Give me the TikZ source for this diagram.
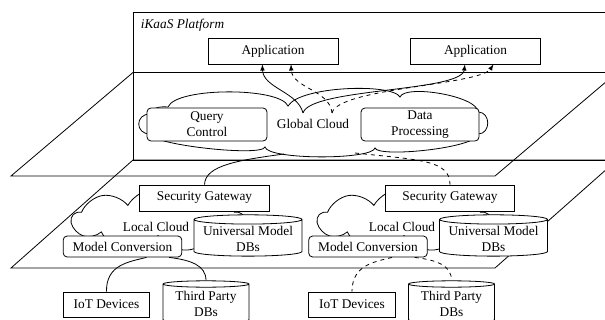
\documentclass[tikz,border=0pt]{standalone}
\usepackage{fontspec}
\setmainfont{Liberation Serif}
\usetikzlibrary{shapes.geometric,shapes.symbols}

\tikzset{
  box/.style={draw, fill=white, inner sep=2pt},
  rbox/.style={box, rounded corners=3pt, align=center},
  db/.style={cylinder, shape border rotate=90, shape aspect=0.1, draw, fill=white, align=center, inner sep=1pt},
  puff/.style={cloud, draw, fill=white, cloud ignores aspect},
}

\begin{document}
\begin{tikzpicture}[x=0.75pt, y=-0.75pt, >=latex, line width=0.6pt]
    \useasboundingbox (0,0) rectangle (605,320);
    \clip (0,0) rectangle (605,320);

    % platform frame and the two layers
    \draw (133,12.5) rectangle (650,160);
    \node[anchor=west, font=\itshape] (title) at (136,25) {iKaaS Platform};
    \draw (133,72.5) -- (617,72.5) -- (495,176) -- (11,176) -- cycle;
    \draw (133,160) -- (617,160) -- (495,268) -- (11,268) -- cycle;

    % global cloud
    \node[box, minimum width=97.5pt, minimum height=19.5pt] (app1) at (273,51) {Application};
    \node[box, minimum width=97.5pt, minimum height=19.5pt] (app2) at (475.5,51) {Application};
    \draw[fill=white] (150,114) .. controls (135,114) and (135,134) .. (150,134)
        .. controls (152,145) and (262,157) .. (265,147)
        .. controls (268,160) and (372,160) .. (375,148)
        .. controls (378,158) and (478,148) .. (478,134)
        .. controls (491,134) and (491,112) .. (478,112)
        .. controls (478,96) and (405,84) .. (400,97)
        .. controls (392,83) and (300,86) .. (288,106)
        .. controls (280,87) and (176,87) .. (168,107)
        .. controls (158,106) and (150,109) .. cycle;
    \node (gc) at (313,124) {Global Cloud};
    \node[rbox, minimum width=90pt, minimum height=24.75pt] (qc) at (207,124.5) {Query\\Control};
    \node[rbox, minimum width=88.5pt, minimum height=24.75pt] (dp) at (420,124.5) {Data\\Processing};

    \coordinate (gs) at (303,113);
    \coordinate (gd) at (332,113);
    \coordinate (gb1) at (284,154);
    \coordinate (gb2) at (355,153);

    \draw[->] (gs) .. controls (298,92) and (263,88) .. ([xshift=-8pt]app1.south);
    \draw[->] (gs) .. controls (310,88) and (462,92) .. ([xshift=-8pt]app2.south);
    \draw[->, dashed] (gd) .. controls (330,90) and (292,88) .. ([xshift=13.5pt]app1.south);
    \draw[->, dashed] (gd) .. controls (338,88) and (480,85) .. ([xshift=13.5pt]app2.south);

    % local clouds
    \node[puff, cloud puffs=9, cloud puff arc=120, minimum width=129pt, minimum height=48pt] (lc1) at (158,220) {};
    \node[puff, cloud puffs=9, cloud puff arc=120, minimum width=129pt, minimum height=48pt] (lc2) at (404,220) {};
    \node (lc1text) at (156,227) {Local Cloud};
    \node (lc2text) at (402,227) {Local Cloud};

    \node[box, minimum width=97pt, minimum height=19.5pt] (gw1) at (204.5,198) {Security Gateway};
    \node[box, minimum width=97pt, minimum height=19.5pt] (gw2) at (450,198) {Security Gateway};
    \node[rbox, minimum width=89pt, minimum height=15.75pt] (mc1) at (122.5,246.5) {Model Conversion};
    \node[rbox, minimum width=89pt, minimum height=15.75pt] (mc2) at (368,246.5) {Model Conversion};
    \node[db, minimum width=81pt, minimum height=30.75pt] (udb1) at (248,238.5) {Universal Model\\DBs};
    \node[db, minimum width=81pt, minimum height=30.75pt] (udb2) at (493.5,238.5) {Universal Model\\DBs};

    \draw (gb1) .. controls (240,160) and (205,165) .. (gw1.north);
    \draw[dashed] (gb2) .. controls (420,160) and (450,160) .. (gw2.north);

    % devices and third party data
    \node[box, minimum width=65pt, minimum height=18.75pt] (iot1) at (106.5,304.5) {IoT Devices};
    \node[box, minimum width=65pt, minimum height=18.75pt] (iot2) at (352,304.5) {IoT Devices};
    \node[db, minimum width=64.5pt, minimum height=31.5pt] (tdb1) at (206,304) {Third Party\\DBs};
    \node[db, minimum width=64.5pt, minimum height=31.5pt] (tdb2) at (451.5,304) {Third Party\\DBs};

    \draw ([xshift=18pt]mc1.south) .. controls (128,262) and (106,265) .. (iot1.north);
    \draw ([xshift=35pt]mc1.south) .. controls (190,260) and (206,265) .. (tdb1.north);
    \draw[dashed] ([xshift=18pt]mc2.south) .. controls (374,262) and (352,265) .. (iot2.north);
    \draw[dashed] ([xshift=35pt]mc2.south) .. controls (436,260) and (451.5,265) .. (tdb2.north);
\end{tikzpicture}
\end{document}
